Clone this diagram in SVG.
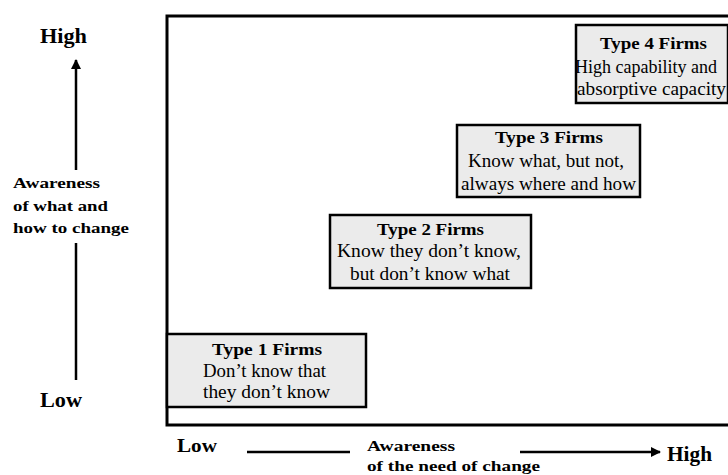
<svg xmlns="http://www.w3.org/2000/svg" width="728" height="475" viewBox="0 0 728 475">
<style>
.box{fill:#ebebeb;stroke:#000;stroke-width:2.5}
.t{font-family:"Liberation Serif",serif;font-size:18px;fill:#000}
.b{font-weight:bold;font-size:17px}
.ax{font-family:"Liberation Serif",serif;font-weight:bold;fill:#000}
.ln{stroke:#000;stroke-width:2.5;fill:none}
</style>
<defs>
<marker id="ah" viewBox="0 0 10 10" refX="9" refY="5" markerWidth="4" markerHeight="4" orient="auto" markerUnits="strokeWidth">
<path d="M0,0 L10,5 L0,10 z" fill="#000"/>
</marker>
</defs>
<rect width="728" height="475" fill="#fff"/>
<rect id="frame" x="167" y="16" width="580" height="409" fill="none" stroke="#000" stroke-width="3"/>
<g id="type1">
<rect class="box" x="167" y="334" width="199" height="73"/>
<text class="t b" x="212" y="355" textLength="110" lengthAdjust="spacingAndGlyphs">Type 1 Firms</text>
<text class="t" x="203" y="377" textLength="123" lengthAdjust="spacingAndGlyphs">Don’t know that</text>
<text class="t" x="203" y="398" textLength="127" lengthAdjust="spacingAndGlyphs">they don’t know</text>
</g>
<g id="type2">
<rect class="box" x="330" y="215" width="201" height="73"/>
<text class="t b" x="377" y="235" textLength="107" lengthAdjust="spacingAndGlyphs">Type 2 Firms</text>
<text class="t" x="337" y="257" textLength="184" lengthAdjust="spacingAndGlyphs">Know they don’t know,</text>
<text class="t" x="350" y="280" textLength="160" lengthAdjust="spacingAndGlyphs">but don’t know what</text>
</g>
<g id="type3">
<rect class="box" x="457" y="125" width="183" height="72"/>
<text class="t b" x="495" y="143" textLength="108" lengthAdjust="spacingAndGlyphs">Type 3 Firms</text>
<text class="t" x="468" y="167" textLength="156" lengthAdjust="spacingAndGlyphs">Know what, but not,</text>
<text class="t" x="461" y="190" textLength="175" lengthAdjust="spacingAndGlyphs">always where and how</text>
</g>
<g id="type4">
<rect class="box" x="576" y="25" width="152" height="78"/>
<text class="t b" x="600" y="49" textLength="107" lengthAdjust="spacingAndGlyphs">Type 4 Firms</text>
<text class="t" x="575" y="73" textLength="142" lengthAdjust="spacingAndGlyphs">High capability and</text>
<text class="t" x="577" y="95" textLength="149" lengthAdjust="spacingAndGlyphs">absorptive capacity</text>
</g>
<g id="connectors">
<line class="ln" x1="76" y1="170" x2="76" y2="60" marker-end="url(#ah)"/>
<line class="ln" x1="76" y1="243" x2="76" y2="380"/>
<line class="ln" x1="247" y1="452" x2="350" y2="452"/>
<line class="ln" x1="520" y1="452" x2="660" y2="452" marker-end="url(#ah)"/>
</g>
<g id="labels">
<text class="ax" x="40" y="43" font-size="20" textLength="47" lengthAdjust="spacingAndGlyphs">High</text>
<text class="ax" x="13" y="188" font-size="15" textLength="87" lengthAdjust="spacingAndGlyphs">Awareness</text>
<text class="ax" x="13" y="211" font-size="15" textLength="95" lengthAdjust="spacingAndGlyphs">of what and</text>
<text class="ax" x="13" y="233" font-size="15" textLength="116" lengthAdjust="spacingAndGlyphs">how to change</text>
<text class="ax" x="40" y="407" font-size="20" textLength="42" lengthAdjust="spacingAndGlyphs">Low</text>
<text class="ax" x="177" y="452" font-size="19" textLength="40" lengthAdjust="spacingAndGlyphs">Low</text>
<text class="ax" x="367" y="451" font-size="15" textLength="88" lengthAdjust="spacingAndGlyphs">Awareness</text>
<text class="ax" x="367" y="471" font-size="15" textLength="173" lengthAdjust="spacingAndGlyphs">of the need of change</text>
<text class="ax" x="667" y="461" font-size="21" textLength="45" lengthAdjust="spacingAndGlyphs">High</text>
</g>
</svg>
